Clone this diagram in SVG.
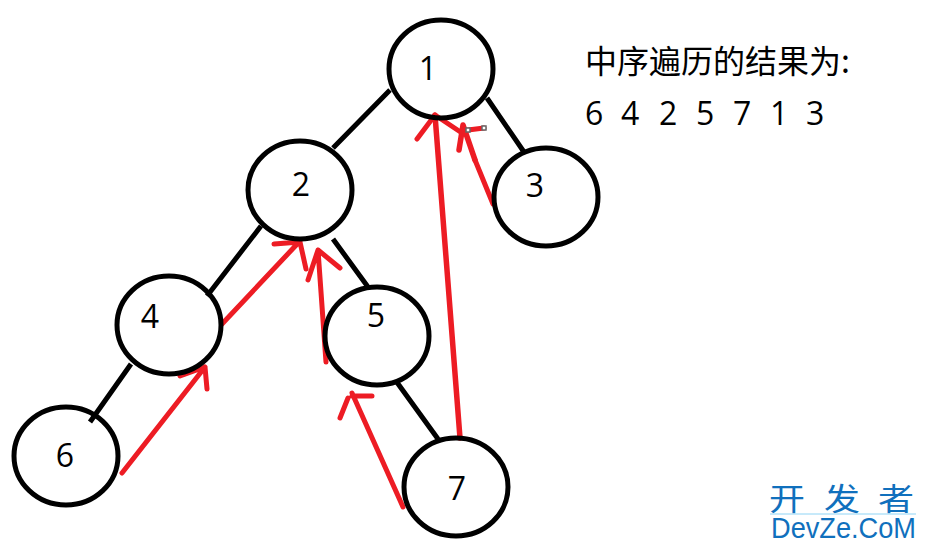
<svg xmlns="http://www.w3.org/2000/svg" width="926" height="549" viewBox="0 0 926 549">
<style>
.n{fill:none;stroke:#000;stroke-width:5}
.e{fill:none;stroke:#000;stroke-width:5}
.r{fill:none;stroke:#ed1c24;stroke-width:5;stroke-linecap:round;stroke-linejoin:round}
.b{stroke-width:5.5}
text{font-family:"Noto Sans CJK SC","Noto Sans",sans-serif;fill:#000}
.t{font-size:32px;font-family:"Open Sans","Noto Sans",sans-serif;text-anchor:middle}
.d{font-size:32px;font-family:"Open Sans","Noto Sans",sans-serif}
.h{fill:#fff;stroke:#666;stroke-width:1.5}
</style>
<rect width="926" height="549" fill="#fff"/>
<g id="connectors">
<path class="e" d="M390 90L333 148M487 98L524 152M261 226L207 296M333 239L368 287M131 364L90 422M396 381L438 439"/>
<path class="r" d="M222 324L300 241M274 244L300 242L306 269M326 362L318 250M308 280L318 250L340 268M122 473L205 367M180 376L205 367L207 389M403 507L352 393M352 396H372M348 398L340 418M417 139L435 115L462 133"/>
<path class="r b" d="M460 438L435 115M459 150L463 125L475 160"/>
<path class="r" d="M475 160L493 204M468 130L484 128"/>
<rect class="h" x="466" y="128" width="4" height="4"/><rect class="h" x="482" y="126" width="4" height="4"/>
</g>
<g id="node1"><ellipse class="n" cx="441" cy="69" rx="52" ry="49"/><text class="t" x="428" y="80">1</text></g>
<g id="node2"><ellipse class="n" cx="300" cy="190" rx="52" ry="49"/><text class="t" x="301" y="196">2</text></g>
<g id="node3"><ellipse class="n" cx="546" cy="197" rx="52" ry="49"/><text class="t" x="535" y="197">3</text></g>
<g id="node4"><ellipse class="n" cx="169" cy="325" rx="52" ry="49"/><text class="t" x="150" y="328">4</text></g>
<g id="node5"><ellipse class="n" cx="377" cy="336" rx="52" ry="49"/><text class="t" x="376" y="327">5</text></g>
<g id="node6"><ellipse class="n" cx="66" cy="456" rx="52" ry="49"/><text class="t" x="65" y="467">6</text></g>
<g id="node7"><ellipse class="n" cx="456" cy="487" rx="52" ry="49"/><text class="t" x="457" y="500">7</text></g>
<text x="585" y="73" font-size="32">中序遍历的结果为:</text>
<text class="d" x="585" y="125">6</text>
<text class="d" x="621" y="125">4</text>
<text class="d" x="659" y="125">2</text>
<text class="d" x="696" y="125">5</text>
<text class="d" x="733" y="125">7</text>
<text class="d" x="770" y="125">1</text>
<text class="d" x="806" y="125">3</text>
<g id="watermark">
<text x="769 824 878" y="510" font-size="36" style="fill:#1070bd" transform="translate(0 71) scale(1 .86)">开发者</text>
<line x1="770" y1="514" x2="916" y2="514" stroke="#8fd4f5" stroke-width="1"/>
<text x="771" y="538" font-size="29" style="fill:#1070bd;font-family:'Liberation Sans',sans-serif" textLength="145" lengthAdjust="spacingAndGlyphs">DevZe.CoM</text>
</g>
</svg>
